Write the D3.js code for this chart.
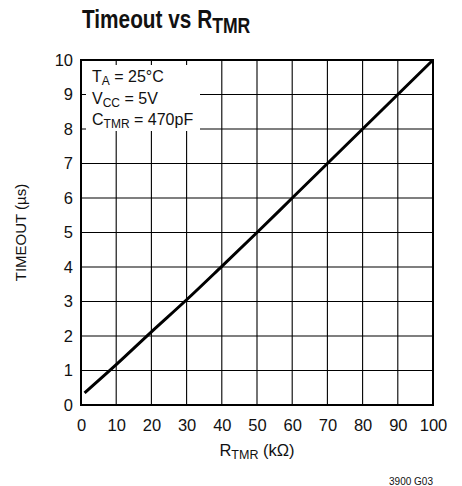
<!DOCTYPE html>
<html>
<head>
<meta charset="utf-8">
<script src="https://cdn.jsdelivr.net/npm/d3@7"></script>
<style>
  html, body { margin: 0; padding: 0; background: #fff; }
  svg { display: block; }
  text { font-family: "Liberation Sans", Arial, Helvetica, sans-serif; fill: #111; }
</style>
</head>
<body>
<svg id="chart" width="462" height="486"></svg>
<script>
// ---- data ----
const rtmr    = [1, 10, 20, 30, 40, 50, 60, 70, 80, 90, 100];          // kΩ
const timeout = [0.35, 1.17, 2.12, 3.05, 4.02, 5.0, 6.0, 7.0, 8.0, 9.0, 10.0]; // µs
const xTicks  = [0, 10, 20, 30, 40, 50, 60, 70, 80, 90, 100];
const yTicks  = [0, 1, 2, 3, 4, 5, 6, 7, 8, 9, 10];

const svg = d3.select("#chart");
const L = 81, R = 433, T = 60, B = 405;

const x = d3.scaleLinear().domain([0, 100]).range([L, R]);
const y = d3.scaleLinear().domain([0, 10]).range([B, T]);

// grid
const g = svg.append("g");
g.selectAll("line.vx").data(xTicks.slice(1, -1)).join("line")
  .attr("x1", d => x(d)).attr("x2", d => x(d))
  .attr("y1", T).attr("y2", B)
  .attr("stroke", "#000").attr("stroke-width", 1.1);
g.selectAll("line.hy").data(yTicks.slice(1, -1)).join("line")
  .attr("y1", d => y(d)).attr("y2", d => y(d))
  .attr("x1", L).attr("x2", R)
  .attr("stroke", "#000").attr("stroke-width", 1.1);

// legend box (white, covering grid)
svg.append("rect")
  .attr("x", 86).attr("y", 65).attr("width", 114).attr("height", 66)
  .attr("fill", "#fff");

// frame
svg.append("rect")
  .attr("x", L).attr("y", T).attr("width", R - L).attr("height", B - T)
  .attr("fill", "none").attr("stroke", "#000").attr("stroke-width", 2);

// axes labels via d3 axes (no lines)
const xAxis = svg.append("g").attr("transform", `translate(0,${B})`)
  .call(d3.axisBottom(x).tickValues(xTicks).tickSize(0).tickPadding(14));
xAxis.select(".domain").remove();
xAxis.selectAll("text").attr("font-size", 16.5).attr("fill", "#111")
  .attr("font-family", "Liberation Sans, Arial, sans-serif");

const yAxis = svg.append("g").attr("transform", `translate(${L},0)`)
  .call(d3.axisLeft(y).tickValues(yTicks).tickSize(0).tickPadding(8));
yAxis.select(".domain").remove();
yAxis.selectAll("text").attr("font-size", 16.5).attr("fill", "#111")
  .attr("font-family", "Liberation Sans, Arial, sans-serif");

// data line
const line = d3.line().x((d, i) => x(rtmr[i])).y(d => y(d)).curve(d3.curveMonotoneX);
svg.append("path").datum(timeout)
  .attr("d", line)
  .attr("fill", "none").attr("stroke", "#000").attr("stroke-width", 3)
  .attr("stroke-linecap", "butt");

// legend text
const leg = svg.append("g").attr("font-size", 16);
function subText(px, py, main, sub, rest, fs, sfs) {
  const t = leg.append("text").attr("x", px).attr("y", py).attr("font-size", fs);
  t.append("tspan").text(main);
  t.append("tspan").attr("font-size", sfs).attr("dy", 3).text(sub);
  t.append("tspan").attr("dy", -3).text(rest);
  return t;
}
subText(92, 82, "T", "A", " = 25°C", 16, 12);
subText(92, 104, "V", "CC", " = 5V", 16, 12);
subText(92, 125, "C", "TMR", " = 470pF", 16, 12);

// title (condensed bold)
const title = svg.append("text")
  .attr("transform", "translate(82,28) scale(0.8,1)")
  .attr("font-size", 26).attr("font-weight", "bold");
title.append("tspan").text("Timeout vs R");
title.append("tspan").attr("font-size", 22).attr("dy", 5).text("TMR");

// x axis title
const xt = svg.append("text")
  .attr("x", (L + R) / 2).attr("y", 456).attr("text-anchor", "middle")
  .attr("font-size", 16.5);
xt.append("tspan").text("R");
xt.append("tspan").attr("font-size", 12.5).attr("dy", 3).text("TMR");
xt.append("tspan").attr("dy", -3).text(" (kΩ)");

// y axis title
svg.append("text")
  .attr("transform", `translate(25.5,${(T + B) / 2}) rotate(-90)`)
  .attr("text-anchor", "middle").attr("font-size", 15)
  .text("TIMEOUT (µs)");

// figure id
svg.append("text")
  .attr("x", 433).attr("y", 485).attr("text-anchor", "end")
  .attr("font-size", 10).text("3900 G03");
</script>
</body>
</html>
